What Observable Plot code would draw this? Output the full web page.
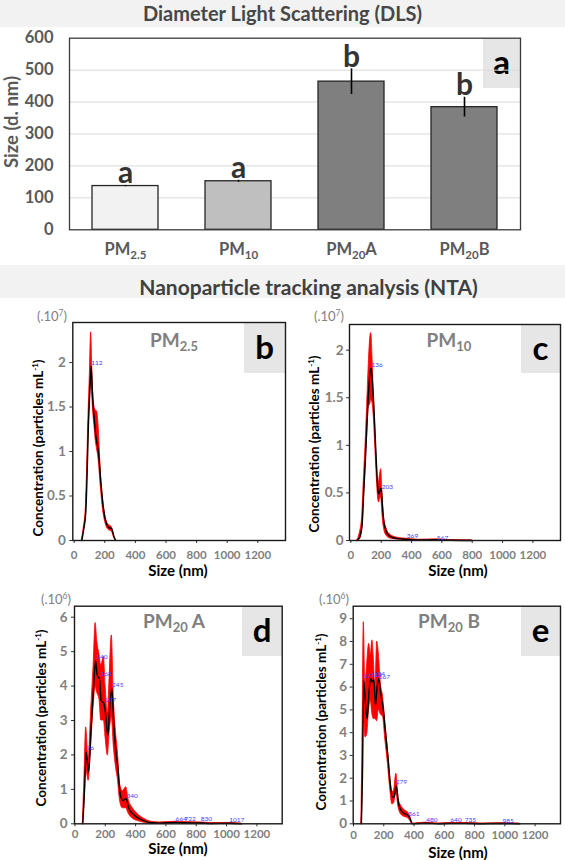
<!DOCTYPE html>
<html><head><meta charset="utf-8">
<script src="https://cdn.jsdelivr.net/npm/d3@7"></script>
<script src="https://cdn.jsdelivr.net/npm/@observablehq/plot@0.6"></script>
<style>
body{margin:0;background:#fff;}
#fig{position:relative;width:565px;height:860px;font-family:Lato,"Open Sans",sans-serif;overflow:hidden;background:#fff;}
.band{position:absolute;left:0;width:565px;box-sizing:border-box;background:#f2f2f2;text-align:center;font-weight:bold;color:#474747;white-space:nowrap;}
.corner{position:absolute;background:#e6e6e6;font-weight:bold;color:#000;text-align:center;font-size:33px;}
.ptitle{position:absolute;font-weight:bold;color:#808080;font-size:19px;line-height:19px;white-space:nowrap;transform:translateX(-50%);}
.ptitle sub{font-size:13px;vertical-align:baseline;position:relative;top:4px;}
.ylab{position:absolute;font-weight:bold;white-space:nowrap;transform:translate(-50%,-50%) rotate(-90deg);}
.ylab sup{font-size:8px;vertical-align:baseline;position:relative;top:-5px;}
.xlab{position:absolute;font-weight:bold;white-space:nowrap;transform:translate(-50%,-50%);font-size:15px;line-height:15px;color:#000;}
.mult{position:absolute;color:#808080;font-size:13px;line-height:14px;white-space:nowrap;transform:translateX(-50%);}
.mult sup{font-size:8.5px;vertical-align:baseline;position:relative;top:-5px;}
</style>
</head><body>
<div id="fig"></div>
<script>
// ---------- DLS data ----------
const dlsCategories = ["PM2.5", "PM10", "PM20A", "PM20B"];
const dlsSize = [137, 152, 464, 384];
const dlsError = [2, 3, 40, 31];
const dlsLetters = ["a", "a", "b", "b"];
const dlsYTicks = [0, 100, 200, 300, 400, 500, 600];

// ---------- NTA data (concentration in units shown on each axis) ----------
const pm25Size = [50, 63, 76, 85, 93, 102, 111, 118, 124, 133, 141, 150, 159, 174, 189, 207, 224, 246, 261, 272];
const pm25Mean = [0, 0.13, 0.32, 0.77, 1.29, 1.67, 1.96, 1.71, 1.52, 1.33, 1.18, 1.09, 0.99, 0.66, 0.39, 0.21, 0.15, 0.13, 0.04, 0];
const pm25High = [0, 0.15, 0.36, 0.84, 1.38, 1.85, 2.34, 1.95, 1.66, 1.50, 1.46, 1.45, 1.30, 0.78, 0.46, 0.25, 0.18, 0.15, 0.05, 0];
const pm25Low  = [0, 0.11, 0.28, 0.70, 1.20, 1.55, 1.78, 1.62, 1.45, 1.28, 1.12, 1.02, 0.92, 0.60, 0.34, 0.18, 0.12, 0.10, 0.03, 0];
const pm25PeakSize = [112];
const pm25PeakConc = [2.0];

const pm10Size = [41, 59, 74, 85, 96, 107, 118, 129, 134, 142, 151, 160, 169, 180, 186, 195, 200, 208, 217, 235, 261, 305, 371, 450, 567, 650, 800];
const pm10Mean = [0, 0.04, 0.16, 0.51, 0.86, 1.25, 1.6, 1.79, 1.81, 1.67, 1.42, 1.11, 0.79, 0.51, 0.49, 0.54, 0.55, 0.37, 0.2, 0.09, 0.04, 0.02, 0.012, 0.005, 0.008, 0.002, 0];
const pm10High = [0, 0.08, 0.24, 0.62, 0.98, 1.4, 1.85, 2.15, 2.18, 1.95, 1.55, 1.2, 0.86, 0.6, 0.62, 0.72, 0.75, 0.5, 0.27, 0.13, 0.06, 0.03, 0.018, 0.008, 0.012, 0.004, 0];
const pm10Low  = [0, 0.01, 0.1, 0.42, 0.75, 1.1, 1.4, 1.44, 1.48, 1.45, 1.3, 1.02, 0.72, 0.44, 0.4, 0.45, 0.45, 0.28, 0.14, 0.05, 0.02, 0.01, 0.006, 0.002, 0.004, 0, 0];
const pm10PeakSize = [136, 203, 369, 567];
const pm10PeakConc = [1.85, 0.56, 0.05, 0.03];

const pm20aSize = [52, 63, 74, 90, 107, 123, 136, 147, 162, 173, 191, 202, 217, 228, 243, 257, 272, 283, 298, 316, 338, 353, 382, 415, 459, 503, 560, 664, 722, 830, 900, 1017, 1100];
const pm20aMean = [0, 0.97, 2.08, 1.5, 2.81, 3.97, 4.74, 4.31, 4.21, 3.58, 3.49, 3.19, 2.56, 3.29, 3.93, 2.81, 2.03, 1.64, 0.87, 0.68, 0.73, 0.48, 0.29, 0.17, 0.08, 0.03, 0.02, 0.04, 0.03, 0.025, 0.01, 0.015, 0];
const pm20aHigh = [0, 1.4, 2.8, 1.85, 3.3, 4.6, 5.83, 5.3, 4.9, 4.6, 4.85, 4.0, 3.2, 4.2, 5.47, 3.6, 2.6, 2.1, 1.15, 0.95, 1.06, 0.72, 0.45, 0.28, 0.14, 0.06, 0.04, 0.06, 0.05, 0.04, 0.02, 0.025, 0];
const pm20aLow  = [0, 0.6, 1.6, 1.25, 2.3, 3.4, 3.97, 3.8, 3.6, 3.0, 3.0, 2.5, 1.98, 2.6, 3.1, 2.2, 1.6, 1.3, 0.65, 0.45, 0.45, 0.3, 0.15, 0.08, 0.03, 0.01, 0.005, 0.02, 0.015, 0.01, 0, 0.005, 0];
const pm20aPeakSize = [76, 140, 168, 197, 245, 340, 664, 722, 830, 1017];
const pm20aPeakConc = [2.2, 4.84, 4.35, 3.6, 4.03, 0.82, 0.13, 0.13, 0.13, 0.1];

const pm20bSize = [52, 59, 68, 79, 90, 103, 114, 125, 134, 145, 156, 167, 180, 195, 210, 228, 243, 257, 268, 283, 298, 316, 338, 360, 375, 389, 420, 480, 560, 640, 735, 850, 985, 1100];
const pm20bMean = [0, 2.05, 6.29, 5.27, 4.61, 5.85, 6.37, 6.22, 6.37, 5.19, 6.0, 6.37, 5.71, 5.12, 4.1, 2.92, 1.76, 1.17, 1.17, 1.65, 0.88, 0.58, 0.44, 0.37, 0.22, 0, 0.01, 0.03, 0.005, 0.02, 0.02, 0.005, 0.015, 0];
const pm20bHigh = [0, 3.5, 8.85, 6.0, 7.0, 7.9, 7.4, 8.05, 7.3, 5.9, 8.0, 7.5, 6.2, 5.6, 4.5, 3.2, 2.0, 1.4, 1.45, 2.2, 1.1, 0.78, 0.6, 0.5, 0.32, 0, 0.02, 0.05, 0.01, 0.03, 0.03, 0.01, 0.025, 0];
const pm20bLow  = [0, 1.0, 5.5, 3.8, 3.9, 5.0, 5.4, 4.8, 4.6, 4.6, 4.5, 5.0, 4.8, 4.7, 3.7, 2.6, 1.5, 0.85, 0.9, 1.35, 0.7, 0.4, 0.3, 0.25, 0.12, 0, 0, 0.01, 0, 0.01, 0.01, 0, 0.005, 0];
const pm20bPeakSize = [67, 115, 134, 167, 279, 361, 480, 640, 735, 985];
const pm20bPeakConc = [6.5, 6.55, 6.6, 6.45, 1.83, 0.44, 0.17, 0.15, 0.15, 0.12];

const ntaXTicks = [0, 200, 400, 600, 800, 1000, 1200];
const ntaYTicksSmall = [0, 0.5, 1, 1.5, 2];
const ntaYTicks6 = [0, 1, 2, 3, 4, 5, 6];
const ntaYTicks9 = [0, 1, 2, 3, 4, 5, 6, 7, 8, 9];

// ---------- helpers ----------
const fig = document.getElementById("fig");
function addHTML(cls, style, html) {
  const d = document.createElement("div");
  d.className = cls;
  d.style.cssText = style;
  d.innerHTML = html;
  fig.appendChild(d);
  return d;
}
function place(node, L, T) {
  const d = document.createElement("div");
  d.style.cssText = `position:absolute;left:${L}px;top:${T}px;`;
  d.appendChild(node);
  fig.appendChild(d);
}
const svgStyle = {background: "transparent", fontFamily: "Lato, 'Open Sans', sans-serif", fontWeight: "bold", overflow: "visible"};

// ---------- title bands ----------
addHTML("band", "top:0;height:27px;line-height:27px;font-size:20px;", "Diameter Light Scattering (DLS)");
addHTML("band", "top:265px;height:33px;line-height:44px;font-size:21px;color:#404040;padding-left:52px;", "Nanoparticle tracking analysis (NTA)");

// ---------- corner boxes ----------
addHTML("corner", "left:483px;top:38px;width:37px;height:50px;line-height:46px;", "a");
addHTML("corner", "left:244px;top:322px;width:41px;height:51px;line-height:48px;", "b");
addHTML("corner", "left:521px;top:325px;width:39px;height:48px;line-height:45px;", "c");
addHTML("corner", "left:242px;top:606px;width:40px;height:50px;line-height:47px;", "d");
addHTML("corner", "left:521px;top:606px;width:39px;height:50px;line-height:47px;", "e");

// ---------- DLS bar chart ----------
const dlsData = dlsCategories.map((c, i) => ({cat: c, size: dlsSize[i], err: dlsError[i], letter: dlsLetters[i]}));
const dls = Plot.plot({
  width: 565, height: 233,
  marginTop: 7.7, marginBottom: 33.7, marginLeft: 69, marginRight: 45,
  style: svgStyle,
  x: {domain: dlsCategories, paddingInner: 0.415, paddingOuter: 0.2},
  y: {domain: [0, 600]},
  color: {domain: dlsCategories, range: ["#f2f2f2", "#bfbfbf", "#7f7f7f", "#7f7f7f"]},
  marks: [
    Plot.gridY(dlsYTicks.slice(1, -1), {stroke: "#d9d9d9", strokeOpacity: 1, strokeWidth: 1}),
    Plot.barY(dlsData, {x: "cat", y: "size", fill: "cat", stroke: "#262626", strokeWidth: 1.3}),
    Plot.ruleX(dlsData, {x: "cat", y1: d => d.size - d.err, y2: d => d.size + d.err, stroke: "#000", strokeWidth: 1.6}),
    Plot.text(dlsData, {x: "cat", y: d => d.size + d.err, text: "letter", lineAnchor: "bottom", dy: -2, fontSize: 30, fill: "#333", fontWeight: "bold"}),
    Plot.axisY({ticks: dlsYTicks, tickSize: 0, tickPadding: 16, fontSize: 16.5, fill: "#595959", label: null, tickFormat: d => String(d)}),
    Plot.axisX({tickSize: 0, tickPadding: 13, fontSize: 16.5, fill: "#595959", label: null}),
    Plot.frame({stroke: "#3a3a3a", strokeWidth: 1.3})
  ]
});
// subscripts for PM labels
dls.querySelectorAll('g[aria-label="x-axis tick label"] text').forEach(t => {
  const m = t.textContent.match(/^PM(\d+(?:\.\d+)?)(.*)$/);
  if (!m) return;
  t.textContent = "";
  const ns = "http://www.w3.org/2000/svg";
  const a = document.createElementNS(ns, "tspan"); a.textContent = "PM"; t.appendChild(a);
  const b = document.createElementNS(ns, "tspan"); b.textContent = m[1]; b.setAttribute("dy", "4"); b.setAttribute("font-size", "11.5"); t.appendChild(b);
  if (m[2]) { const c = document.createElementNS(ns, "tspan"); c.textContent = m[2]; c.setAttribute("dy", "-4"); t.appendChild(c); }
});
place(dls, 0, 30);
addHTML("ylab", "left:11px;top:122px;font-size:18.5px;color:#595959;", "Size (d. nm)");

// ---------- NTA panels ----------
function ntaPanel({size, mean, lo, hi, peakSize, peakConc, yMax, yTicks, xDomain, W, H, mL, mR, mT, mB, xPad, yPad}) {
  const data = size.map((s, i) => ({size: s, mean: mean[i], lo: lo[i], hi: hi[i]}));
  const peaks = peakSize.map((s, i) => ({size: s, conc: peakConc[i]}));
  return Plot.plot({
    width: W, height: H, marginLeft: mL, marginRight: mR, marginTop: mT, marginBottom: mB,
    style: svgStyle,
    x: {domain: xDomain},
    y: {domain: [0, yMax]},
    marks: [
      Plot.areaY(data, {x: "size", y1: "lo", y2: "hi", fill: "#ff0000", stroke: "#ff0000", strokeWidth: 0.8, curve: "monotone-x"}),
      Plot.lineY(data, {x: "size", y: "mean", stroke: "#000", strokeWidth: 1.4, curve: "monotone-x"}),
      Plot.text(peaks, {x: "size", y: "conc", text: d => String(d.size), textAnchor: "start", fill: "#4040ff", fontSize: 6.5, fontWeight: "normal"}),
      Plot.axisX({ticks: ntaXTicks, tickSize: 3, tickPadding: xPad, fontSize: 11.5, fill: "#808080", stroke: "#333", label: null, tickFormat: d => String(d)}),
      Plot.axisY({ticks: yTicks, tickSize: 3, tickPadding: yPad, fontSize: 13.5, fill: "#808080", stroke: "#333", label: null, tickFormat: d => String(d)}),
      Plot.frame({stroke: "#1a1a1a", strokeWidth: 1.4})
    ]
  });
}

place(ntaPanel({size: pm25Size, mean: pm25Mean, lo: pm25Low, hi: pm25High, peakSize: pm25PeakSize, peakConc: pm25PeakConc,
  yMax: 2.45, yTicks: ntaYTicksSmall, xDomain: [-9, 1381], W: 290, H: 262, mL: 72.3, mR: 5, mT: 22, mB: 22, xPad: 7, yPad: 4}), 0, 300);
place(ntaPanel({size: pm10Size, mean: pm10Mean, lo: pm10Low, hi: pm10High, peakSize: pm10PeakSize, peakConc: pm10PeakConc,
  yMax: 2.27, yTicks: ntaYTicksSmall, xDomain: [-9, 1382], W: 275, H: 262, mL: 59, mR: 5, mT: 24, mB: 22, xPad: 7, yPad: 3}), 290, 300);
place(ntaPanel({size: pm20aSize, mean: pm20aMean, lo: pm20aLow, hi: pm20aHigh, peakSize: pm20aPeakSize, peakConc: pm20aPeakConc,
  yMax: 6.32, yTicks: ntaYTicks6, xDomain: [-3, 1367], W: 290, H: 262, mL: 74, mR: 8.3, mT: 20.7, mB: 23.7, xPad: 3.5, yPad: 4}), 0, 585);
place(ntaPanel({size: pm20bSize, mean: pm20bMean, lo: pm20bLow, hi: pm20bHigh, peakSize: pm20bPeakSize, peakConc: pm20bPeakConc,
  yMax: 9.55, yTicks: ntaYTicks9, xDomain: [-2, 1368], W: 275, H: 262, mL: 62.7, mR: 5, mT: 20.7, mB: 23.7, xPad: 4.5, yPad: 3}), 290, 585);

// ---------- NTA text ----------
addHTML("ptitle", "left:174px;top:330px;", "PM<sub>2.5</sub>");
addHTML("ptitle", "left:449px;top:330px;", "PM<sub>10</sub>");
addHTML("ptitle", "left:174px;top:611px;", "PM<sub>20</sub> A");
addHTML("ptitle", "left:449px;top:611px;", "PM<sub>20</sub> B");

addHTML("mult", "left:52px;top:309px;", "(.10<sup>7</sup>)");
addHTML("mult", "left:329px;top:309px;", "(.10<sup>7</sup>)");
addHTML("mult", "left:56px;top:592px;", "(.10<sup>6</sup>)");
addHTML("mult", "left:334px;top:592px;", "(.10<sup>6</sup>)");

const yl = "Concentration (particles mL<sup>-1</sup>)";
addHTML("ylab", "left:37.5px;top:448px;font-size:13.5px;color:#000;", yl);
addHTML("ylab", "left:314px;top:444px;font-size:13.5px;color:#000;", yl);
addHTML("ylab", "left:41px;top:718px;font-size:13.5px;color:#000;", yl);
addHTML("ylab", "left:321px;top:722px;font-size:13.5px;color:#000;", yl);

addHTML("xlab", "left:178px;top:570px;", "Size (nm)");
addHTML("xlab", "left:458px;top:570px;", "Size (nm)");
addHTML("xlab", "left:178px;top:848px;", "Size (nm)");
addHTML("xlab", "left:458px;top:852px;", "Size (nm)");
</script>
</body></html>
